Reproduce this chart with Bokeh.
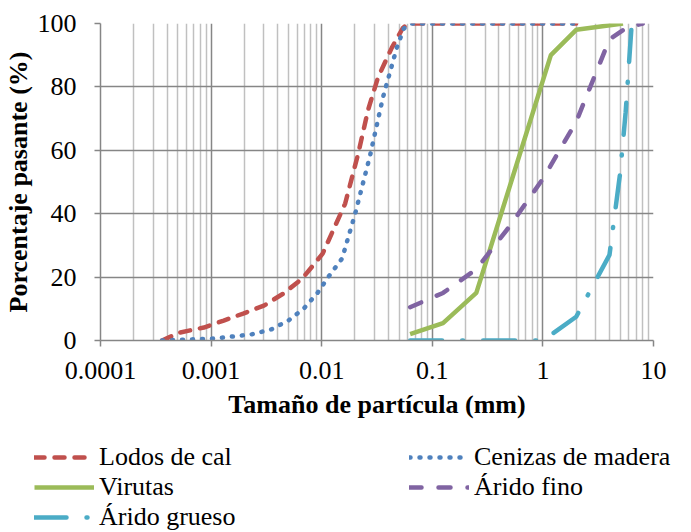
from bokeh.plotting import figure
from bokeh.layouts import column
from bokeh.models import Legend, LegendItem, FixedTicker, CustomJSTickFormatter
from bokeh.embed import file_html
from bokeh.resources import INLINE

# ---- data ----
x_ticks = [0.0001, 0.001, 0.01, 0.1, 1, 10]
x_tick_labels = ["0.0001", "0.001", "0.01", "0.1", "1", "10"]
y_ticks = [0, 20, 40, 60, 80, 100]

lodos_x = [0.00036, 0.00052, 0.00086, 0.0013, 0.00195, 0.003, 0.0045, 0.0067, 0.0102,
           0.0163, 0.0214, 0.0262, 0.0323, 0.0431, 0.054, 0.06, 2.0]
lodos_y = [0, 2.5, 4.1, 6.3, 8.5, 11.0, 14.8, 19.6, 27.4, 43.2, 59.0, 72.6, 83.0, 92.4,
           98.5, 100, 100]

cenizas_x = [0.00036, 0.00105, 0.0023, 0.0035, 0.005, 0.0069, 0.0092, 0.0114, 0.0153,
             0.0201, 0.0274, 0.0358, 0.0478, 0.0552, 0.065, 2.0]
cenizas_y = [0, 0.6, 1.9, 3.5, 6.3, 10.1, 15.1, 19.9, 25.9, 40.1, 58.4, 76.7, 92.4, 98.4,
             100, 100]

virutas_x = [0.063, 0.125, 0.25, 1.18, 2.0, 5.3]
virutas_y = [2, 5.5, 15, 90, 98, 100]

fino_x = [0.063, 0.125, 0.25, 0.5, 1, 2, 4, 5.6, 8]
fino_y = [10.5, 15, 22.5, 36, 51, 69, 95, 98.5, 100]

grueso_x = [0.063, 0.125, 0.25, 0.5, 1, 2, 4, 5, 5.6, 6.3, 8]
grueso_y = [0, 0, 0, 0, 0, 7.5, 27, 53, 72, 98, 100]

series_names = ["Lodos de cal", "Cenizas de madera", "Virutas", "Árido fino", "Árido grueso"]
legend_order = ["Lodos de cal", "Virutas", "Árido grueso", "Cenizas de madera", "Árido fino"]

FONT = "Liberation Serif"
W = 4.5
styles = {
    "Lodos de cal": dict(line_color="#C0504D", line_width=W, line_dash="10 10", line_cap="round"),
    "Cenizas de madera": dict(line_color="#4F81BD", line_width=W, line_dash="1 9", line_cap="round"),
    "Virutas": dict(line_color="#9BBB59", line_width=W),
    "Árido fino": dict(line_color="#8064A2", line_width=W, line_dash="12 17", line_cap="round"),
    "Árido grueso": dict(line_color="#4BACC6", line_width=W, line_dash="32 20 1 20", line_cap="round"),
}
data = {
    "Lodos de cal": (lodos_x, lodos_y),
    "Cenizas de madera": (cenizas_x, cenizas_y),
    "Virutas": (virutas_x, virutas_y),
    "Árido fino": (fino_x, fino_y),
    "Árido grueso": (grueso_x, grueso_y),
}

p = figure(width=675, height=436, x_axis_type="log", x_range=(1e-4, 10), y_range=(0, 100),
           output_backend="svg", toolbar_location=None,
           min_border_left=95, min_border_right=22, min_border_top=23, min_border_bottom=96)
p.outline_line_color = None
p.background_fill_color = "white"
p.frame_align = False

# grid
minor = [m * 10.0 ** e for e in range(-4, 1) for m in range(2, 10)]
p.xgrid.ticker = FixedTicker(ticks=x_ticks, minor_ticks=minor)
p.xgrid.grid_line_color = "#868686"
p.xgrid.grid_line_width = 1.5
p.xgrid.minor_grid_line_color = "#C0C0C0"
p.xgrid.minor_grid_line_width = 1.5
p.ygrid.ticker = FixedTicker(ticks=y_ticks)
p.ygrid.grid_line_color = "#868686"
p.ygrid.grid_line_width = 1.5

# axes
p.xaxis.ticker = FixedTicker(ticks=x_ticks)
p.xaxis.formatter = CustomJSTickFormatter(args=dict(tvals=x_ticks, tlabels=x_tick_labels), code="""
const i = tvals.findIndex(t => Math.abs(Math.log10(t) - Math.log10(tick)) < 1e-6);
return i >= 0 ? tlabels[i] : '';
""")
p.yaxis.ticker = FixedTicker(ticks=y_ticks)
for ax in (p.xaxis[0], p.yaxis[0]):
    ax.axis_line_color = "#868686"
    ax.axis_line_width = 1.5
    ax.major_tick_line_color = "#868686"
    ax.major_tick_line_width = 1.5
    ax.major_tick_out = 6
    ax.major_tick_in = 0
    ax.minor_tick_line_color = None
    ax.major_label_text_font = FONT
    ax.major_label_text_font_size = "26px"
    ax.major_label_text_color = "black"
    ax.axis_label_text_font = FONT
    ax.axis_label_text_font_size = "26px"
    ax.axis_label_text_font_style = "bold"
    ax.axis_label_text_color = "black"

p.xaxis.axis_label = "Tamaño de partícula (mm)"
p.yaxis.axis_label = "Porcentaje pasante (%)"
p.xaxis.major_label_standoff = 15
p.xaxis.axis_label_standoff = 8
p.yaxis.major_label_standoff = 18
p.yaxis.axis_label_standoff = 2

for name in series_names:
    xs, ys = data[name]
    p.line(xs, ys, **styles[name])

# legend strip below the chart: same series, drawn outside this strip's visible range
q = figure(width=675, height=96, x_axis_type="log", x_range=(1e-4, 10), y_range=(200, 300),
           output_backend="svg", toolbar_location=None, min_border=0,
           x_axis_location=None, y_axis_location=None)
q.grid.visible = False
q.outline_line_color = None
q.frame_align = False
proxies = {}
for name in series_names:
    xs, ys = data[name]
    proxies[name] = q.line(xs, ys, **styles[name])

lg = Legend(items=[LegendItem(label=n, renderers=[proxies[n]]) for n in legend_order],
            location=(34, 0), ncols=2)
lg.border_line_color = None
lg.background_fill_alpha = 0
lg.padding = 0
lg.margin = 0
lg.spacing = 0
lg.glyph_width = 60
lg.glyph_height = 30
lg.label_height = 30
lg.label_width = 310
lg.label_standoff = 5
lg.label_text_font = FONT
lg.label_text_font_size = "26px"
lg.label_text_color = "black"
q.add_layout(lg)

open("out.html", "w").write(file_html(column(p, q, spacing=0), INLINE))
